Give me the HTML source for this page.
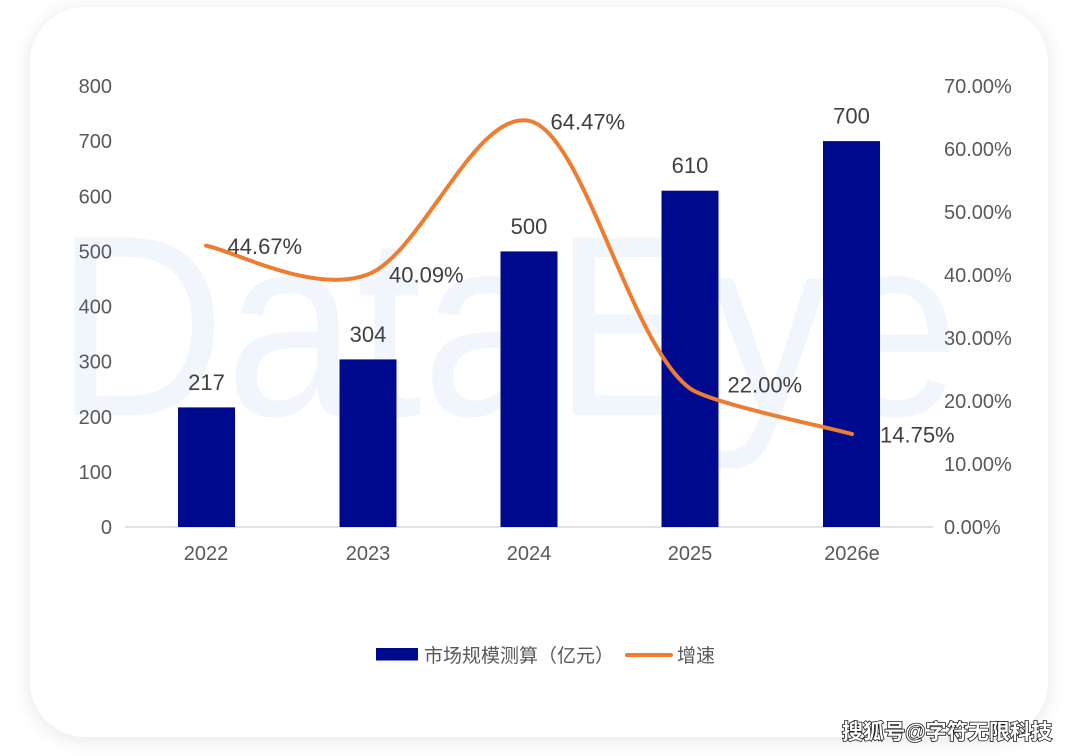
<!DOCTYPE html>
<html>
<head>
<meta charset="utf-8">
<style>
  html,body{margin:0;padding:0;background:#ffffff;}
  body{width:1080px;height:756px;position:relative;overflow:hidden;}
  .card{position:absolute;left:30px;top:7px;width:1018px;height:730px;border-radius:55px;background:#ffffff;box-shadow:0 3px 20px rgba(0,0,0,0.10);}
  svg{position:absolute;left:0;top:0;}
  .tick{font-family:"Liberation Sans","Noto Sans CJK SC",sans-serif;font-size:20px;fill:#595959;}
  .dl{font-family:"Liberation Sans","Noto Sans CJK SC",sans-serif;font-size:22px;fill:#404040;}
  .lg{font-family:"Liberation Sans","Noto Sans CJK SC",sans-serif;font-size:19px;fill:#595959;}
  .wm{font-family:"Liberation Sans","Noto Sans CJK SC",sans-serif;font-size:21px;font-weight:bold;fill:#ffffff;stroke:#1a1a1a;stroke-width:1.6px;paint-order:stroke;}
</style>
</head>
<body>
<div class="card"></div>
<svg width="1080" height="756" viewBox="0 0 1080 756" xmlns="http://www.w3.org/2000/svg">
  <!-- background watermark -->
  <text x="55" y="415" font-family="Liberation Sans, sans-serif" font-size="258" fill="#f1f6fc" textLength="905" lengthAdjust="spacingAndGlyphs">DataEye</text>

  <!-- axis line -->
  <line x1="125" y1="527" x2="933" y2="527" stroke="#d9d9d9" stroke-width="1.6"/>

  <!-- bars -->
  <g fill="#000a8f">
    <rect x="178" y="407.4" width="57" height="119.6"/>
    <rect x="339.5" y="359.4" width="57" height="167.6"/>
    <rect x="500.5" y="251.4" width="57" height="275.6"/>
    <rect x="661.5" y="190.7" width="57" height="336.3"/>
    <rect x="823" y="141.1" width="57" height="385.9"/>
  </g>

  <!-- line -->
  <path d="M206,245.6 C233,250.4 314.2,295.2 368,274.4 C421.8,253.6 475,110 529,120.8 C583,131 630,345 690,388.4 C711,403.6 825,426.5 852,434.1" fill="none" stroke="#ed7d31" stroke-width="4" stroke-linecap="round" stroke-linejoin="round"/>

  <!-- left ticks -->
  <g class="tick" text-anchor="end">
    <text x="112" y="93">800</text>
    <text x="112" y="148.1">700</text>
    <text x="112" y="203.3">600</text>
    <text x="112" y="258.4">500</text>
    <text x="112" y="313.5">400</text>
    <text x="112" y="368.6">300</text>
    <text x="112" y="423.8">200</text>
    <text x="112" y="478.9">100</text>
    <text x="112" y="534">0</text>
  </g>

  <!-- right ticks -->
  <g class="tick" text-anchor="start">
    <text x="944" y="93">70.00%</text>
    <text x="944" y="156">60.00%</text>
    <text x="944" y="219">50.00%</text>
    <text x="944" y="282">40.00%</text>
    <text x="944" y="345">30.00%</text>
    <text x="944" y="408">20.00%</text>
    <text x="944" y="471">10.00%</text>
    <text x="944" y="534">0.00%</text>
  </g>

  <!-- x labels -->
  <g class="tick" text-anchor="middle">
    <text x="206" y="560">2022</text>
    <text x="368" y="560">2023</text>
    <text x="529" y="560">2024</text>
    <text x="690" y="560">2025</text>
    <text x="852" y="560">2026e</text>
  </g>

  <!-- bar data labels -->
  <g class="dl" text-anchor="middle">
    <text x="206.5" y="389.8">217</text>
    <text x="368" y="341.8">304</text>
    <text x="529" y="233.8">500</text>
    <text x="690" y="173.1">610</text>
    <text x="851.5" y="123.5">700</text>
  </g>

  <!-- line data labels -->
  <g class="dl">
    <text x="227.5" y="254">44.67%</text>
    <text x="389" y="282.7">40.09%</text>
    <text x="550.5" y="129.5">64.47%</text>
    <text x="727.5" y="392.3">22.00%</text>
    <text x="880" y="442.7">14.75%</text>
  </g>

  <!-- legend -->
  <rect x="376" y="648" width="42" height="12.5" fill="#000a8f"/>
  <text class="lg" x="424" y="662">市场规模测算（亿元）</text>
  <line x1="627" y1="655" x2="671" y2="655" stroke="#ed7d31" stroke-width="4" stroke-linecap="round"/>
  <text class="lg" x="677" y="662">增速</text>

  <!-- source watermark -->
  <text class="wm" x="842" y="739" textLength="210" lengthAdjust="spacingAndGlyphs">搜狐号@字符无限科技</text>
</svg>
</body>
</html>
